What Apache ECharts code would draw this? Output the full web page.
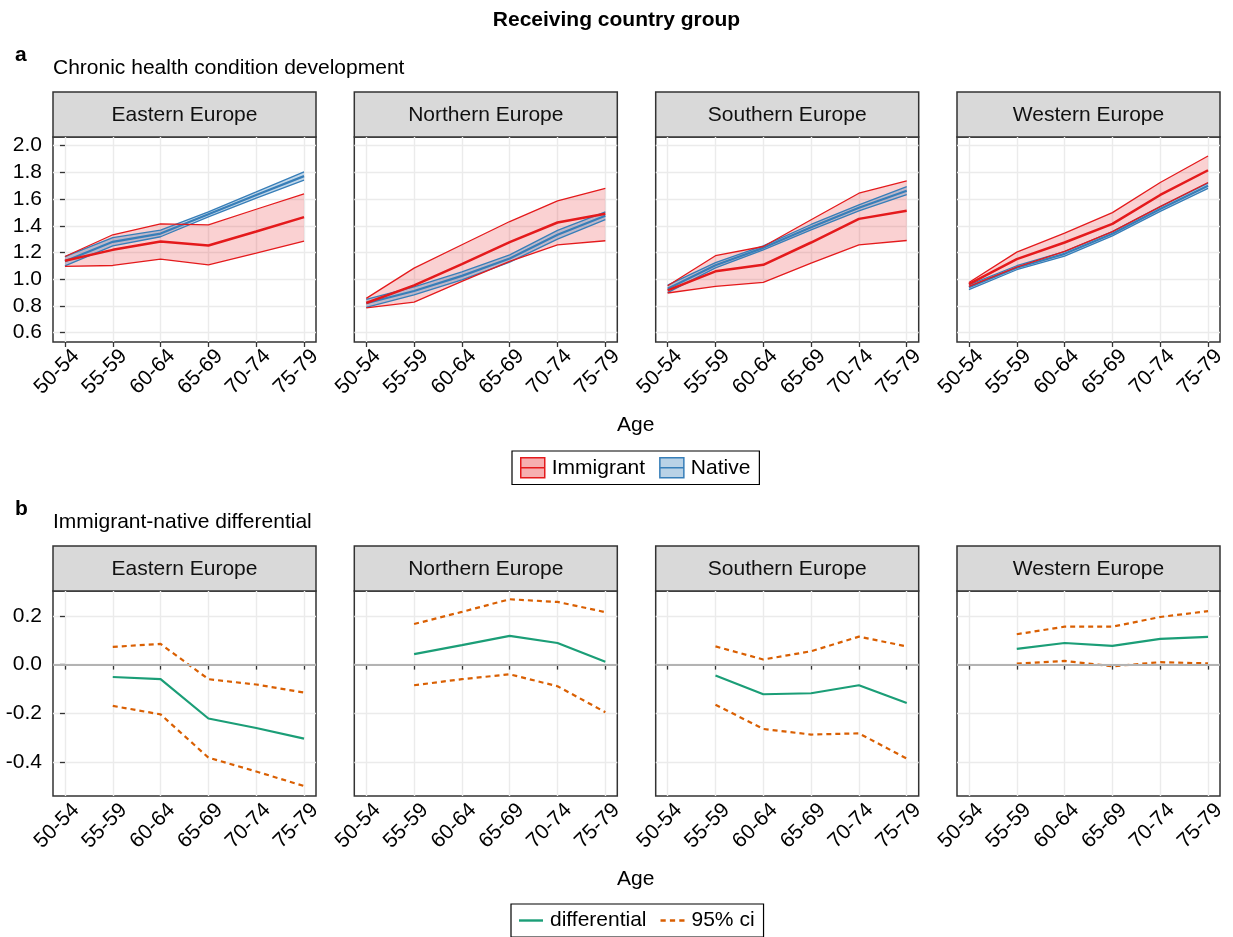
<!DOCTYPE html>
<html><head><meta charset="utf-8">
<script src="https://cdn.jsdelivr.net/npm/echarts@6/dist/echarts.min.js"></script>
<style>html,body{margin:0;padding:0;background:#fff}#c{width:1233px;height:937px}</style>
</head><body><div id="c"></div>
<script>
// ---------- data ----------
const ages = ['50-54', '55-59', '60-64', '65-69', '70-74', '75-79'];
const regions = ['Eastern Europe', 'Northern Europe', 'Southern Europe', 'Western Europe'];
const yTicksTop = [0.6, 0.8, 1.0, 1.2, 1.4, 1.6, 1.8, 2.0];
const yTicksBottom = [-0.4, -0.2, 0.0, 0.2];

// panel a: chronic health condition development
const immMeanEast  = [1.138, 1.220, 1.283, 1.253, 1.357, 1.465];
const immLowEast   = [1.096, 1.103, 1.150, 1.108, 1.195, 1.285];
const immHighEast  = [1.170, 1.333, 1.415, 1.407, 1.524, 1.639];
const natMeanEast  = [1.135, 1.280, 1.342, 1.486, 1.631, 1.772];
const natLowEast   = [1.100, 1.250, 1.318, 1.467, 1.608, 1.742];
const natHighEast  = [1.170, 1.312, 1.367, 1.505, 1.654, 1.804];

const immMeanNorth = [0.822, 0.954, 1.113, 1.278, 1.425, 1.490];
const immLowNorth  = [0.785, 0.829, 0.984, 1.133, 1.258, 1.288];
const immHighNorth = [0.857, 1.083, 1.258, 1.432, 1.587, 1.681];
const natMeanNorth = [0.820, 0.912, 1.025, 1.155, 1.333, 1.476];
const natLowNorth  = [0.790, 0.882, 0.995, 1.128, 1.300, 1.447];
const natHighNorth = [0.850, 0.942, 1.055, 1.182, 1.366, 1.505];

const immMeanSouth = [0.917, 1.059, 1.108, 1.275, 1.452, 1.512];
const immLowSouth  = [0.897, 0.946, 0.976, 1.121, 1.258, 1.290];
const immHighSouth = [0.951, 1.176, 1.245, 1.445, 1.644, 1.736];
const natMeanSouth = [0.928, 1.105, 1.235, 1.390, 1.535, 1.663];
const natLowSouth  = [0.900, 1.085, 1.220, 1.370, 1.512, 1.633];
const natHighSouth = [0.956, 1.125, 1.250, 1.410, 1.557, 1.693];

const immMeanWest  = [0.964, 1.151, 1.275, 1.415, 1.631, 1.816];
const immLowWest   = [0.946, 1.091, 1.208, 1.357, 1.544, 1.724];
const immHighWest  = [0.976, 1.203, 1.345, 1.499, 1.724, 1.923];
const natMeanWest  = [0.940, 1.086, 1.190, 1.340, 1.526, 1.700];
const natLowWest   = [0.922, 1.071, 1.173, 1.325, 1.508, 1.680];
const natHighWest  = [0.958, 1.101, 1.207, 1.357, 1.544, 1.720];

// panel b: immigrant-native differential (no estimate for 50-54)
const diffEast  = [null, -0.051, -0.060, -0.222, -0.261, -0.305];
const ciLowEast = [null, -0.170, -0.205, -0.383, -0.440, -0.500];
const ciHighEast= [null,  0.073,  0.085, -0.060, -0.082, -0.115];

const diffNorth  = [null, 0.043, 0.080, 0.118, 0.089, 0.012];
const ciLowNorth = [null, -0.085, -0.060, -0.040, -0.089, -0.196];
const ciHighNorth= [null, 0.167, 0.217, 0.269, 0.258, 0.216];

const diffSouth  = [null, -0.045, -0.122, -0.118, -0.085, -0.158];
const ciLowSouth = [null, -0.165, -0.265, -0.288, -0.283, -0.387];
const ciHighSouth= [null, 0.075, 0.021, 0.055, 0.115, 0.075];

const diffWest  = [null, 0.065, 0.089, 0.077, 0.106, 0.114];
const ciLowWest = [null, 0.004, 0.015, -0.007, 0.010, 0.005];
const ciHighWest= [null, 0.125, 0.156, 0.156, 0.196, 0.220];

// ---------- grouping ----------
const immMean = [immMeanEast, immMeanNorth, immMeanSouth, immMeanWest];
const immLow  = [immLowEast, immLowNorth, immLowSouth, immLowWest];
const immHigh = [immHighEast, immHighNorth, immHighSouth, immHighWest];
const natMean = [natMeanEast, natMeanNorth, natMeanSouth, natMeanWest];
const natLow  = [natLowEast, natLowNorth, natLowSouth, natLowWest];
const natHigh = [natHighEast, natHighNorth, natHighSouth, natHighWest];
const diff    = [diffEast, diffNorth, diffSouth, diffWest];
const ciLow   = [ciLowEast, ciLowNorth, ciLowSouth, ciLowWest];
const ciHigh  = [ciHighEast, ciHighNorth, ciHighSouth, ciHighWest];

// ---------- style / layout ----------
const FONT = '"Liberation Sans", Arial, sans-serif';
const RED = '#E41A1C', BLUE = '#377EB8', GREEN = '#1B9E77', ORANGE = '#D95F02';
const panelLeft = [53, 354.3, 655.7, 957];
const panelW = 263;
const rowTop = [92, 546];
const stripH = 45, plotH = 205;
const yRange = [[0.530, 2.065], [-0.541, 0.303]];
const ySplit = [8, 4];
const xIdx = ages.map((_, i) => i);

const pts = arr => arr.map((v, i) => v === null ? null : [i, v]).filter(p => p);

// ribbon drawn as one polygon through the axis scales (api.coord)
function ribbon(g, name, lo, hi, fill, z) {
  return {
    type: 'custom', name: name, xAxisIndex: g, yAxisIndex: g, silent: true, z: z, clip: true,
    data: lo.map((v, i) => [i, v, hi[i]]),
    encode: { x: 0, y: [1, 2] },
    renderItem: (params, api) => {
      if (params.dataIndex !== 0) return null;
      const points = [];
      for (let i = 0; i < lo.length; i++) points.push(api.coord([i, lo[i]]));
      for (let i = hi.length - 1; i >= 0; i--) points.push(api.coord([i, hi[i]]));
      return { type: 'polygon', shape: { points: points }, style: { fill: fill } };
    }
  };
}

const grids = [], xAxes = [], yAxes = [], series = [], graphics = [];
for (let r = 0; r < 2; r++) {
  for (let p = 0; p < 4; p++) {
    const g = r * 4 + p;
    grids.push({
      left: panelLeft[p], top: rowTop[r] + stripH, width: panelW, height: plotH,
      show: true, backgroundColor: '#fff', borderColor: '#333', borderWidth: 1.5, z: 0
    });
    xAxes.push({
      type: 'value', gridIndex: g, min: -0.25, max: 5.25, splitNumber: 5,
      axisLine: { show: false },
      axisTick: { show: true, length: 5, customValues: xIdx, lineStyle: { color: '#333', width: 1.3 } },
      axisLabel: {
        customValues: xIdx, rotate: 45, formatter: v => ages[v] ?? '',
        fontSize: 21, color: '#000', fontFamily: FONT, margin: 7,
        align: 'right', verticalAlign: 'top', padding: [0, -5, 0, 0]
      },
      splitLine: { show: true, lineStyle: { color: '#ebebeb', width: 1.4 } }
    });
    const yt = r === 0 ? yTicksTop : yTicksBottom;
    yAxes.push({
      type: 'value', gridIndex: g, min: yRange[r][0], max: yRange[r][1], splitNumber: ySplit[r],
      axisLine: { show: false },
      axisTick: { show: p === 0, length: 5, customValues: yt, lineStyle: { color: '#333', width: 1.3 } },
      axisLabel: {
        show: p === 0, customValues: yt, formatter: v => v.toFixed(1),
        fontSize: 21, color: '#000', fontFamily: FONT, margin: 11
      },
      splitLine: { show: true, lineStyle: { color: '#ebebeb', width: 1.4 } }
    });
    // facet strip
    graphics.push({
      type: 'group', children: [
        { type: 'rect', shape: { x: panelLeft[p], y: rowTop[r], width: panelW, height: stripH },
          style: { fill: '#d9d9d9', stroke: '#333', lineWidth: 1.5 } },
        { type: 'text', x: panelLeft[p] + panelW / 2, y: rowTop[r] + stripH / 2 + 0.5,
          style: { text: regions[p], fill: '#111', fontSize: 21, fontFamily: FONT,
                   align: 'center', verticalAlign: 'middle' } }
      ]
    });
    const base = { type: 'line', xAxisIndex: g, yAxisIndex: g, symbol: 'none', silent: true, animation: false };
    if (r === 0) {
      series.push(
        ribbon(g, 'Immigrant', immLow[p], immHigh[p], 'rgba(228,26,28,0.2)', 2),
        ribbon(g, 'Native', natLow[p], natHigh[p], 'rgba(55,126,184,0.3)', 2),
        { ...base, name: 'Native', data: pts(natLow[p]), z: 3, lineStyle: { color: BLUE, width: 1.3 }, itemStyle: { color: BLUE } },
        { ...base, name: 'Native', data: pts(natHigh[p]), z: 3, lineStyle: { color: BLUE, width: 1.3 }, itemStyle: { color: BLUE } },
        { ...base, name: 'Native', data: pts(natMean[p]), z: 3, lineStyle: { color: BLUE, width: 2.2 }, itemStyle: { color: BLUE } },
        { ...base, name: 'Immigrant', data: pts(immLow[p]), z: 4, lineStyle: { color: RED, width: 1.3 }, itemStyle: { color: RED } },
        { ...base, name: 'Immigrant', data: pts(immHigh[p]), z: 4, lineStyle: { color: RED, width: 1.3 }, itemStyle: { color: RED } },
        { ...base, name: 'Immigrant', data: pts(immMean[p]), z: 4, lineStyle: { color: RED, width: 2.5 }, itemStyle: { color: RED } }
      );
    } else {
      series.push(
        { ...base, name: 'zero', data: [], z: 1,
          markLine: { silent: true, symbol: ['none', 'none'], label: { show: false }, animation: false,
                      lineStyle: { color: '#b3b3b3', width: 2, type: 'solid' }, data: [{ yAxis: 0 }] } },
        { ...base, name: '95% ci', data: pts(ciLow[p]), z: 3,
          lineStyle: { color: ORANGE, width: 2.2, type: [5, 4] }, itemStyle: { color: ORANGE } },
        { ...base, name: '95% ci', data: pts(ciHigh[p]), z: 3,
          lineStyle: { color: ORANGE, width: 2.2, type: [5, 4] }, itemStyle: { color: ORANGE } },
        { ...base, name: 'differential', data: pts(diff[p]), z: 3,
          lineStyle: { color: GREEN, width: 2.2 }, itemStyle: { color: GREEN } }
      );
    }
  }
}

const boxIcon = 'path://M0,0 L24,0 L24,20 L0,20 Z M0,10 L24,10';
const solidIcon = 'path://M0,0 L24,0 L24,2.4 L0,2.4 Z';
const dashIcon = 'path://M0,0 L5,0 L5,2.4 L0,2.4 Z M9,0 L14,0 L14,2.4 L9,2.4 Z M18,0 L23,0 L23,2.4 L18,2.4 Z';
const legendText = { fontSize: 21, color: '#000', fontFamily: FONT, padding: [0, 0, 0, 2] };

const titleStyle = (size, bold) => ({ fontSize: size, fontWeight: bold ? 'bold' : 'normal', color: '#000', fontFamily: FONT });

const option = {
  animation: false,
  backgroundColor: '#fff',
  title: [
    { text: 'Receiving country group', left: 'center', top: 10, padding: 0, textStyle: titleStyle(21, true) },
    { text: 'a', left: 15, top: 45, padding: 0, textStyle: titleStyle(21, true) },
    { text: 'Chronic health condition development', left: 53, top: 58, padding: 0, textStyle: titleStyle(21, false) },
    { text: 'Age', left: 617, top: 415, padding: 0, textStyle: titleStyle(21, false) },
    { text: 'b', left: 15, top: 499, padding: 0, textStyle: titleStyle(21, true) },
    { text: 'Immigrant-native differential', left: 53, top: 512, padding: 0, textStyle: titleStyle(21, false) },
    { text: 'Age', left: 617, top: 869, padding: 0, textStyle: titleStyle(21, false) }
  ],
  legend: [
    {
      left: 512, top: 451, orient: 'horizontal', padding: [6, 9, 6, 8],
      borderColor: '#000', borderWidth: 1.2, itemWidth: 24, itemHeight: 20, itemGap: 14,
      selectedMode: false, textStyle: legendText,
      data: [
        { name: 'Immigrant', icon: boxIcon, itemStyle: { color: 'rgba(228,26,28,0.35)', borderColor: RED, borderWidth: 1.5 } },
        { name: 'Native', icon: boxIcon, itemStyle: { color: 'rgba(55,126,184,0.35)', borderColor: BLUE, borderWidth: 1.5 } }
      ]
    },
    {
      left: 511, top: 904, orient: 'horizontal', padding: [6, 9, 6, 8],
      borderColor: '#000', borderWidth: 1.2, itemWidth: 24, itemHeight: 20, itemGap: 14,
      selectedMode: false, textStyle: legendText,
      data: [
        { name: 'differential', icon: solidIcon, itemStyle: { color: GREEN, borderWidth: 0 } },
        { name: '95% ci', icon: dashIcon, itemStyle: { color: ORANGE, borderWidth: 0 } }
      ]
    }
  ],
  grid: grids,
  xAxis: xAxes,
  yAxis: yAxes,
  graphic: graphics,
  series: series
};

const chart = echarts.init(document.getElementById('c'), null, { renderer: 'canvas' });
chart.setOption(option);
</script>
</body></html>
